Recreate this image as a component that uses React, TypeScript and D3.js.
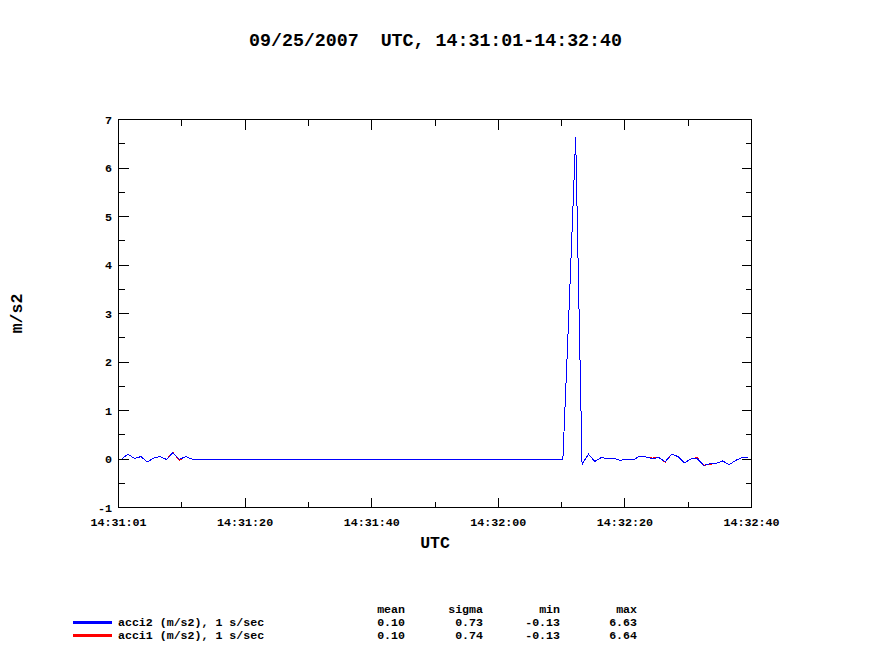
import React from "react";
import * as d3 from "d3";

// chart text
const title = "09/25/2007  UTC, 14:31:01-14:32:40";
const xTitle = "UTC";
const yTitle = "m/s2";
const xTickLabels = ["14:31:01", "14:31:20", "14:31:40", "14:32:00", "14:32:20", "14:32:40"];
const yTicks = [-1, 0, 1, 2, 3, 4, 5, 6, 7];

// time span of the x axis (seconds after 14:31:01) and first sample offset
const spanSeconds = 99;
const sampleStart = 0.5;

// 1 s/sec samples, m/s2
const acci2 = [
  0.0, 0.1, 0.01, 0.05, -0.06, 0.02, 0.05, -0.01, 0.13, -0.01,
  0.05, 0.0, 0.0, 0.0, 0.0, 0.0, 0.0, 0.0, 0.0, 0.0,
  0.0, 0.0, 0.0, 0.0, 0.0, 0.0, 0.0, 0.0, 0.0, 0.0,
  0.0, 0.0, 0.0, 0.0, 0.0, 0.0, 0.0, 0.0, 0.0, 0.0,
  0.0, 0.0, 0.0, 0.0, 0.0, 0.0, 0.0, 0.0, 0.0, 0.0,
  0.0, 0.0, 0.0, 0.0, 0.0, 0.0, 0.0, 0.0, 0.0, 0.0,
  0.0, 0.0, 0.0, 0.0, 0.0, 0.0, 0.0, 0.0, 0.0, 0.0,
  3.2, 6.63, -0.11, 0.1, -0.05, 0.03, 0.01, 0.01, -0.03, 0.0,
  -0.02, 0.06, 0.04, 0.01, 0.03, -0.06, 0.1, 0.05, -0.08, 0.0,
  0.01, -0.13, -0.1, -0.09, -0.04, -0.12, -0.03, 0.03, 0.03,
];
const acci1 = [
  0.0, 0.1, 0.01, 0.05, -0.06, 0.02, 0.05, -0.01, 0.14, -0.03,
  0.05, 0.0, 0.0, 0.0, 0.0, 0.0, 0.0, 0.0, 0.0, 0.0,
  0.0, 0.0, 0.0, 0.0, 0.0, 0.0, 0.0, 0.0, 0.0, 0.0,
  0.0, 0.0, 0.0, 0.0, 0.0, 0.0, 0.0, 0.0, 0.0, 0.0,
  0.0, 0.0, 0.0, 0.0, 0.0, 0.0, 0.0, 0.0, 0.0, 0.0,
  0.0, 0.0, 0.0, 0.0, 0.0, 0.0, 0.0, 0.0, 0.0, 0.0,
  0.0, 0.0, 0.0, 0.0, 0.0, 0.0, 0.0, 0.0, 0.0, 0.0,
  3.2, 6.64, -0.11, 0.1, -0.05, 0.03, 0.01, 0.01, -0.03, 0.0,
  -0.02, 0.06, 0.04, 0.02, 0.04, -0.07, 0.1, 0.05, -0.08, 0.0,
  0.03, -0.13, -0.11, -0.09, -0.04, -0.12, -0.03, 0.03, 0.02,
];

const seriesNames = ["acci2 (m/s2), 1 s/sec", "acci1 (m/s2), 1 s/sec"];
const seriesColors = ["#0000ff", "#ff0000"];
const statHeaders = ["mean", "sigma", "min", "max"];
const acci2Stats = ["0.10", "0.73", "-0.13", "6.63"];
const acci1Stats = ["0.10", "0.74", "-0.13", "6.64"];

const W = 871;
const H = 647;
const font = "'Liberation Mono', 'DejaVu Sans Mono', monospace";

export default function App() {
  const left = 118.5, right = 751.5, top = 119.5, bottom = 507.5;

  const x = d3.scaleLinear().domain([0, spanSeconds]).range([left, right]);
  const y = d3.scaleLinear().domain([-1, 7]).range([bottom, top]);

  // 10 equal divisions, label on every other one
  const nDiv = (xTickLabels.length - 1) * 2;
  const xTicks = d3.range(nDiv + 1).map((i) => (i * spanSeconds) / nDiv);
  const yMinor = d3.range(-0.5, 7, 1);

  const line = d3
    .line<number>()
    .x((_, i) => x(i + sampleStart))
    .y((d) => y(d));

  const statCols = [405, 483, 560, 637];
  const rowY = [626, 639];

  return (
    <div style={{ position: "absolute", left: 0, top: 0 }}>
      <svg width={W} height={H} style={{ display: "block", background: "#fff" }} fontFamily={font} fontWeight="bold">
        <text x={W / 2} y={46} textAnchor="middle" fontSize={18.3} style={{ whiteSpace: "pre" }}>
          {title}
        </text>

        {/* data, aliased like the original plot */}
        <g fill="none" strokeWidth={1} shapeRendering="crispEdges">
          <path d={line(acci1) || ""} stroke={seriesColors[1]} />
          <path d={line(acci2) || ""} stroke={seriesColors[0]} />
        </g>

        {/* frame and ticks */}
        <g stroke="#000" strokeWidth={1} shapeRendering="crispEdges">
          <rect x={left} y={top} width={right - left} height={bottom - top} fill="none" />
          {xTicks.map((t, i) => {
            const len = i % 2 === 0 ? 10 : 6;
            return (
              <g key={"xt" + i}>
                <line x1={x(t)} x2={x(t)} y1={bottom} y2={bottom - len} />
                <line x1={x(t)} x2={x(t)} y1={top} y2={top + len} />
              </g>
            );
          })}
          {yTicks.map((v) => (
            <g key={"yt" + v}>
              <line x1={left} x2={left + 10} y1={y(v)} y2={y(v)} />
              <line x1={right} x2={right - 10} y1={y(v)} y2={y(v)} />
            </g>
          ))}
          {yMinor.map((v) => (
            <g key={"ym" + v}>
              <line x1={left} x2={left + 6} y1={y(v)} y2={y(v)} />
              <line x1={right} x2={right - 6} y1={y(v)} y2={y(v)} />
            </g>
          ))}
        </g>

        {/* tick labels */}
        <g fontSize={11.7}>
          {xTickLabels.map((lab, i) => (
            <text key={lab} x={x(xTicks[i * 2])} y={526} textAnchor="middle">
              {lab}
            </text>
          ))}
          {yTicks.map((v) => (
            <text key={"yl" + v} x={112} y={y(v)} dy="0.36em" textAnchor="end">
              {v}
            </text>
          ))}
        </g>

        <text x={(left + right) / 2} y={548} textAnchor="middle" fontSize={16.5}>
          {xTitle}
        </text>
        <text transform={`translate(22,${(top + bottom) / 2}) rotate(-90)`} textAnchor="middle" fontSize={16.5}>
          {yTitle}
        </text>

        {/* legend */}
        <g fontSize={11.6}>
          {statHeaders.map((h, i) => (
            <text key={h} x={statCols[i]} y={613} textAnchor="end">
              {h}
            </text>
          ))}
          {[acci2Stats, acci1Stats].map((row, r) => (
            <g key={"row" + r}>
              <line
                x1={73}
                x2={112}
                y1={rowY[r] - 3.5}
                y2={rowY[r] - 3.5}
                stroke={seriesColors[r]}
                strokeWidth={3}
              />
              <text x={118} y={rowY[r]} style={{ whiteSpace: "pre" }}>
                {seriesNames[r]}
              </text>
              {row.map((s, i) => (
                <text key={i} x={statCols[i]} y={rowY[r]} textAnchor="end">
                  {s}
                </text>
              ))}
            </g>
          ))}
        </g>
      </svg>
    </div>
  );
}
